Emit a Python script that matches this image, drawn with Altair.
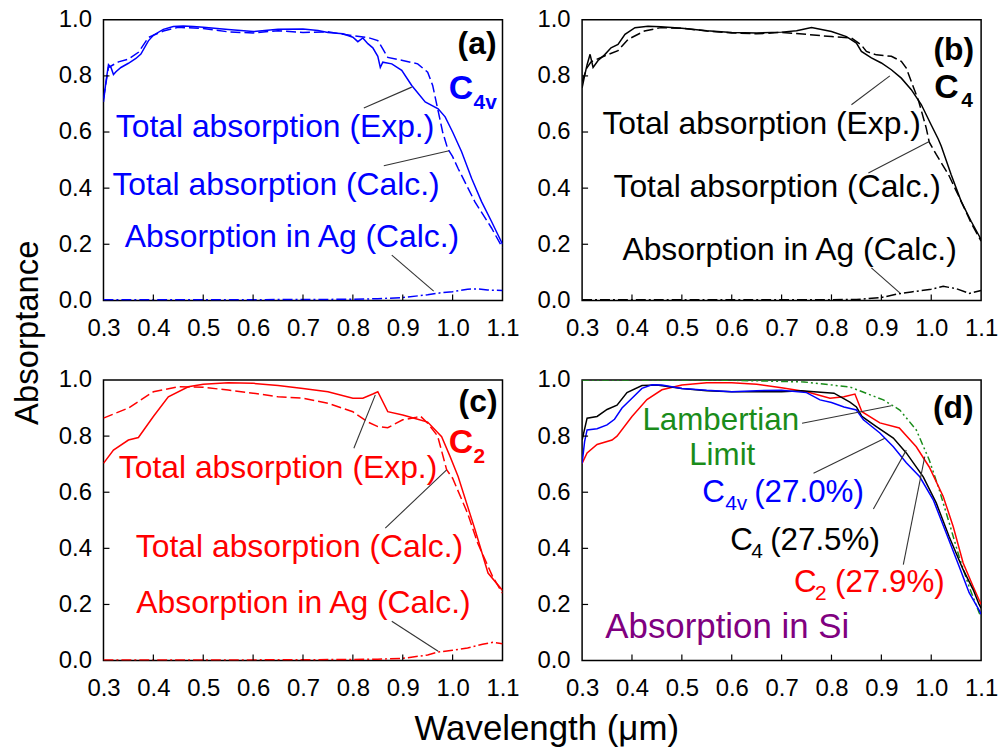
import altair as alt
import pandas as pd

FONT = "Liberation Sans"
BLUE = "#0000ff"
RED = "#ff0000"
BLACK = "#000000"
GREEN = "#1a8c1a"
PURPLE = "#800080"

# ---------------- data ----------------
x_ticks = [0.3, 0.4, 0.5, 0.6, 0.7, 0.8, 0.9, 1.0, 1.1]
y_ticks = [0.0, 0.2, 0.4, 0.6, 0.8, 1.0]

# (a) C4v
a_exp_wl = [0.300, 0.305, 0.310, 0.315, 0.320, 0.325, 0.335, 0.350, 0.365, 0.375, 0.390, 0.400, 0.420, 0.440,
            0.460, 0.480, 0.500, 0.550, 0.600, 0.650, 0.700, 0.730, 0.750, 0.780, 0.800, 0.810, 0.820, 0.830,
            0.840, 0.850, 0.855, 0.860, 0.878, 0.898, 0.918, 0.945, 0.971, 0.985, 1.000, 1.018, 1.038, 1.058,
            1.078, 1.100]
a_exp = [0.707, 0.780, 0.840, 0.830, 0.805, 0.815, 0.830, 0.845, 0.862, 0.878, 0.925, 0.945, 0.966, 0.976,
         0.978, 0.976, 0.973, 0.965, 0.958, 0.966, 0.967, 0.962, 0.955, 0.950, 0.938, 0.922, 0.935, 0.915,
         0.900, 0.870, 0.830, 0.849, 0.843, 0.820, 0.766, 0.707, 0.683, 0.654, 0.600, 0.530, 0.435, 0.352,
         0.281, 0.200]
a_calc_wl = [0.300, 0.310, 0.330, 0.350, 0.370, 0.390, 0.420, 0.450, 0.500, 0.550, 0.600, 0.650, 0.700, 0.750,
             0.800, 0.830, 0.850, 0.860, 0.870, 0.900, 0.930, 0.950, 0.960, 0.970, 0.980, 0.990, 1.000, 1.011,
             1.045, 1.078, 1.100]
a_calc = [0.720, 0.830, 0.850, 0.860, 0.884, 0.937, 0.960, 0.973, 0.969, 0.957, 0.953, 0.961, 0.955, 0.957,
          0.943, 0.937, 0.926, 0.896, 0.866, 0.855, 0.843, 0.813, 0.766, 0.683, 0.600, 0.541, 0.512, 0.470,
          0.350, 0.258, 0.187]
a_ag_wl = [0.30, 0.50, 0.70, 0.80, 0.85, 0.90, 0.95, 0.98, 1.00, 1.03, 1.05, 1.07, 1.10]
a_ag = [0.002, 0.002, 0.003, 0.004, 0.006, 0.010, 0.020, 0.028, 0.031, 0.040, 0.041, 0.037, 0.035]

# (b) C4
b_exp_wl = [0.300, 0.305, 0.310, 0.316, 0.322, 0.332, 0.345, 0.358, 0.372, 0.386, 0.406, 0.432, 0.458, 0.500,
            0.550, 0.600, 0.650, 0.700, 0.730, 0.760, 0.800, 0.830, 0.850, 0.860, 0.880, 0.900, 0.920, 0.940,
            0.960, 0.980, 1.000, 1.014, 1.020, 1.040, 1.060, 1.080, 1.100]
b_exp = [0.757, 0.800, 0.840, 0.877, 0.830, 0.855, 0.875, 0.900, 0.912, 0.948, 0.972, 0.977, 0.975, 0.970,
         0.961, 0.955, 0.953, 0.956, 0.961, 0.972, 0.958, 0.940, 0.917, 0.887, 0.864, 0.846, 0.822, 0.792,
         0.751, 0.698, 0.625, 0.575, 0.550, 0.448, 0.353, 0.282, 0.217]
b_calc_wl = [0.300, 0.310, 0.318, 0.346, 0.372, 0.392, 0.425, 0.458, 0.500, 0.550, 0.600, 0.650, 0.700, 0.750,
             0.800, 0.840, 0.860, 0.870, 0.890, 0.920, 0.940, 0.950, 0.960, 0.975, 0.990, 0.996, 1.010, 1.035,
             1.060, 1.080, 1.100]
b_calc = [0.780, 0.830, 0.850, 0.872, 0.890, 0.930, 0.960, 0.972, 0.970, 0.960, 0.953, 0.950, 0.955, 0.948,
          0.940, 0.935, 0.910, 0.887, 0.875, 0.870, 0.852, 0.828, 0.780, 0.709, 0.614, 0.564, 0.520, 0.447,
          0.353, 0.276, 0.211]
b_ag_wl = [0.30, 0.50, 0.70, 0.85, 0.90, 0.93, 0.96, 1.00, 1.024, 1.05, 1.076, 1.10]
b_ag = [0.002, 0.002, 0.002, 0.003, 0.010, 0.022, 0.030, 0.040, 0.050, 0.042, 0.025, 0.035]

# (c) C2
c_exp_wl = [0.30, 0.32, 0.35, 0.37, 0.40, 0.43, 0.47, 0.50, 0.55, 0.60, 0.65, 0.70, 0.75, 0.80, 0.82, 0.84,
            0.85, 0.87, 0.90, 0.93, 0.95, 0.978, 0.995, 1.011, 1.045, 1.071, 1.10]
c_exp = [0.703, 0.750, 0.786, 0.795, 0.870, 0.940, 0.976, 0.985, 0.990, 0.988, 0.980, 0.970, 0.958, 0.935,
         0.935, 0.950, 0.958, 0.887, 0.875, 0.860, 0.850, 0.798, 0.727, 0.656, 0.466, 0.312, 0.250]
c_calc_wl = [0.30, 0.35, 0.40, 0.45, 0.50, 0.55, 0.60, 0.65, 0.70, 0.75, 0.80, 0.83, 0.85, 0.87, 0.90, 0.925,
             0.935, 0.95, 0.97, 0.988, 1.00, 1.03, 1.05, 1.08, 1.10]
c_calc = [0.864, 0.900, 0.958, 0.976, 0.974, 0.964, 0.953, 0.940, 0.935, 0.917, 0.887, 0.850, 0.834, 0.830,
          0.858, 0.866, 0.872, 0.846, 0.800, 0.680, 0.650, 0.525, 0.420, 0.300, 0.240]
c_ag_wl = [0.30, 0.50, 0.70, 0.80, 0.85, 0.90, 0.95, 0.97, 1.00, 1.03, 1.06, 1.08, 1.10]
c_ag = [0.002, 0.002, 0.003, 0.004, 0.005, 0.008, 0.020, 0.030, 0.037, 0.045, 0.058, 0.065, 0.060]

# (d) absorption in Si
d_c4v_wl = [0.300, 0.305, 0.310, 0.330, 0.350, 0.365, 0.380, 0.400, 0.420, 0.440, 0.460, 0.500, 0.550, 0.600,
            0.650, 0.700, 0.750, 0.777, 0.800, 0.825, 0.850, 0.864, 0.897, 0.924, 0.950, 0.977, 1.004, 1.030,
            1.056, 1.076, 1.096, 1.100]
d_c4v = [0.703, 0.780, 0.822, 0.826, 0.840, 0.860, 0.900, 0.935, 0.970, 0.983, 0.982, 0.970, 0.963, 0.958,
         0.962, 0.963, 0.955, 0.929, 0.920, 0.904, 0.893, 0.858, 0.811, 0.762, 0.705, 0.655, 0.573, 0.455,
         0.335, 0.242, 0.180, 0.165]
d_c4_wl = [0.300, 0.310, 0.330, 0.350, 0.370, 0.390, 0.420, 0.450, 0.500, 0.550, 0.600, 0.650, 0.700, 0.740,
           0.765, 0.805, 0.837, 0.850, 0.861, 0.890, 0.924, 0.950, 0.984, 1.010, 1.036, 1.064, 1.084, 1.096,
           1.100]
d_c4 = [0.786, 0.864, 0.870, 0.895, 0.910, 0.955, 0.980, 0.982, 0.970, 0.962, 0.958, 0.958, 0.958, 0.962,
        0.958, 0.953, 0.921, 0.904, 0.870, 0.834, 0.793, 0.740, 0.655, 0.562, 0.441, 0.324, 0.253, 0.200,
        0.187]
d_c2_wl = [0.300, 0.310, 0.330, 0.360, 0.370, 0.400, 0.430, 0.460, 0.500, 0.550, 0.600, 0.650, 0.700, 0.750,
           0.797, 0.825, 0.847, 0.861, 0.897, 0.936, 0.970, 0.996, 1.024, 1.044, 1.064, 1.084, 1.100]
d_c2 = [0.703, 0.740, 0.770, 0.786, 0.800, 0.870, 0.930, 0.965, 0.982, 0.990, 0.990, 0.985, 0.972, 0.958,
        0.935, 0.940, 0.950, 0.887, 0.847, 0.829, 0.762, 0.690, 0.585, 0.478, 0.348, 0.264, 0.200]
d_lamb_wl = [0.300, 0.400, 0.500, 0.600, 0.650, 0.745, 0.837, 0.904, 0.937, 0.970, 0.996, 1.016, 1.036, 1.056,
             1.076, 1.096, 1.100]
d_lamb = [1.000, 1.000, 1.000, 0.999, 0.997, 0.993, 0.975, 0.929, 0.893, 0.822, 0.715, 0.609, 0.491, 0.370,
          0.263, 0.171, 0.155]

# annotation texts
exp_label = "Total absorption (Exp.)"
calc_label = "Total absorption (Calc.)"
ag_label = "Absorption in Ag (Calc.)"

# ---------------- chart helpers ----------------
W, H = 401, 282
XSCALE = alt.Scale(domain=[0.3, 1.1], nice=False, zero=False)
YSCALE = alt.Scale(domain=[0.0, 1.0], nice=False, zero=False)

def x_axis(title=False):
    kw = dict(values=x_ticks, format=".1f", labelPadding=16, labelFlush=False, labelOverlap=False,
              title="")
    if title:
        kw.update(title="Wavelength (\u03bcm)", titleX=445, titleY=79, titleBaseline="alphabetic",
                  titleAlign="center", titleAngle=0, titleFontSize=35)
    return alt.Axis(**kw)

def y_axis(title=False):
    kw = dict(values=y_ticks, format=".1f", labelPadding=12, labelFlush=False, labelOverlap=False,
              title="")
    if title:
        kw.update(title="Absorptance", titleX=-66, titleY=314, titleBaseline="alphabetic",
                  titleAlign="center", titleAngle=270)
    return alt.Axis(**kw)

def panel(lines, leaders, texts, xt=False, yt=False):
    X = alt.X("x:Q", scale=XSCALE, axis=x_axis(xt))
    Y = alt.Y("y:Q", scale=YSCALE, axis=y_axis(yt))
    layers = []
    for wl, vals, color, dash in lines:
        kw = dict(color=color, strokeWidth=1.5, clip=True)
        if dash:
            kw["strokeDash"] = dash
        layers.append(alt.Chart(pd.DataFrame({"x": wl, "y": vals})).mark_line(**kw).encode(x=X, y=Y))
    # inward ticks
    xt_df = pd.DataFrame({"x": x_ticks[1:-1]})
    layers.append(alt.Chart(xt_df).mark_rule(color=BLACK, strokeWidth=1.2).encode(
        x=X, y=alt.value(H), y2=alt.value(H - 6)))
    yt_df = pd.DataFrame({"y": y_ticks[1:-1]})
    layers.append(alt.Chart(yt_df).mark_rule(color=BLACK, strokeWidth=1.2).encode(
        y=Y, x=alt.value(0), x2=alt.value(6)))
    # leader lines
    ld = pd.DataFrame(leaders, columns=["x", "y", "x2", "y2"])
    layers.append(alt.Chart(ld).mark_rule(color="#333333", strokeWidth=1.1).encode(
        x=X, y=Y, x2="x2:Q", y2="y2:Q"))
    # texts
    for txt, tx, ty, size, color, bold, align in texts:
        df = pd.DataFrame({"x": [tx], "y": [ty], "t": [txt]})
        layers.append(alt.Chart(df).mark_text(
            font=FONT, fontSize=size, color=color, fontWeight="bold" if bold else "normal",
            align=align, baseline="alphabetic").encode(x=X, y=Y, text="t:N"))
    return alt.layer(*layers).properties(width=W, height=H)

SOLID = None
DASH = [10, 4]
DASHDOT = [10, 3, 2, 3]
DASHDOTDOT = [7, 3, 2, 3, 2, 3]
TS = 32     # annotation font size
DS = 31.5   # panel (d) label size
SS = 21     # subscript size

pa = panel(
    [(a_ag_wl, a_ag, BLUE, DASHDOT), (a_calc_wl, a_calc, BLUE, DASH), (a_exp_wl, a_exp, BLUE, SOLID)],
    [(0.822, 0.686, 0.918, 0.760), (0.862, 0.480, 0.993, 0.533), (0.878, 0.161, 0.962, 0.033)],
    [(exp_label, 0.644, 0.582, TS, BLUE, False, "center"),
     (calc_label, 0.646, 0.376, TS, BLUE, False, "center"),
     (ag_label, 0.678, 0.191, TS, BLUE, False, "center"),
     ("(a)", 1.088, 0.879, 32, BLACK, True, "right"),
     ("C", 0.992, 0.716, 34, BLUE, True, "left"),
     ("4v", 1.042, 0.681, 21, BLUE, True, "left")],
    yt=True)

pb = panel(
    [(b_ag_wl, b_ag, BLACK, DASHDOT), (b_calc_wl, b_calc, BLACK, DASH), (b_exp_wl, b_exp, BLACK, SOLID)],
    [(0.840, 0.697, 0.917, 0.800), (0.874, 0.454, 0.997, 0.567), (0.880, 0.116, 0.937, 0.027)],
    [(exp_label, 0.660, 0.592, TS, BLACK, False, "center"),
     (calc_label, 0.691, 0.369, TS, BLACK, False, "center"),
     (ag_label, 0.716, 0.145, TS, BLACK, False, "center"),
     ("(b)", 1.086, 0.858, 32, BLACK, True, "right"),
     ("C", 1.006, 0.723, 34, BLACK, True, "left"),
     ("4", 1.060, 0.688, 21, BLACK, True, "left")])

pc = panel(
    [(c_ag_wl, c_ag, RED, DASHDOT), (c_calc_wl, c_calc, RED, DASH), (c_exp_wl, c_exp, RED, SOLID)],
    [(0.802, 0.757, 0.845, 0.947), (0.865, 0.472, 0.988, 0.680), (0.878, 0.140, 0.971, 0.033)],
    [(exp_label, 0.650, 0.651, TS, RED, False, "center"),
     (calc_label, 0.693, 0.370, TS, RED, False, "center"),
     (ag_label, 0.701, 0.171, TS, RED, False, "center"),
     ("(c)", 1.090, 0.886, 32, BLACK, True, "right"),
     ("C", 0.992, 0.740, 34, RED, True, "left"),
     ("2", 1.042, 0.705, 21, RED, True, "left")],
    xt=True)

pd_ = panel(
    [(d_lamb_wl, d_lamb, GREEN, DASHDOTDOT), (d_c2_wl, d_c2, RED, SOLID),
     (d_c4_wl, d_c4, BLACK, SOLID), (d_c4v_wl, d_c4v, BLUE, SOLID)],
    [(0.741, 0.846, 0.920, 0.908), (0.764, 0.668, 0.907, 0.792), (0.884, 0.540, 0.950, 0.750),
     (0.944, 0.342, 0.987, 0.727)],
    [("Lambertian", 0.578, 0.822, DS, GREEN, False, "center"),
     ("Limit", 0.581, 0.698, DS, GREEN, False, "center"),
     ("C", 0.541, 0.566, DS, BLUE, False, "left"),
     ("4v", 0.587, 0.537, SS, BLUE, False, "left"),
     ("(27.0%)", 0.645, 0.566, DS, BLUE, False, "left"),
     ("C", 0.597, 0.395, DS, BLACK, False, "left"),
     ("4", 0.639, 0.367, SS, BLACK, False, "left"),
     ("(27.5%)", 0.677, 0.395, DS, BLACK, False, "left"),
     ("C", 0.725, 0.246, DS, RED, False, "left"),
     ("2", 0.767, 0.217, SS, RED, False, "left"),
     ("(27.9%)", 0.807, 0.246, DS, RED, False, "left"),
     ("Absorption in Si", 0.591, 0.082, 35, PURPLE, False, "center"),
     ("(d)", 1.085, 0.865, 32, BLACK, True, "right")])

chart = alt.concat(pa, pb, pc, pd_, columns=2, spacing=80, bounds="flush").properties(
    padding={"left": 11, "top": 5, "right": 5, "bottom": 5},
    background="white",
).configure_view(
    stroke="black", strokeWidth=1.5
).configure_axis(
    grid=False, domain=False, ticks=False,
    labelFont=FONT, labelFontSize=24, labelColor="black",
    titleFont=FONT, titleFontSize=33, titleFontWeight="normal", titleColor="black",
)

chart.save("out.html", embed_options={"renderer": "svg", "actions": False})
